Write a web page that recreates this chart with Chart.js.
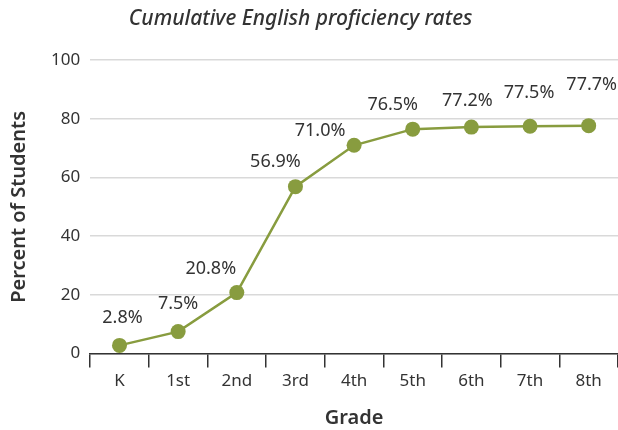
<!DOCTYPE html>
<html>
<head>
<meta charset="utf-8">
<script src="https://cdn.jsdelivr.net/npm/chart.js@4.4.0/dist/chart.umd.min.js"></script>
<style>
  html, body { margin: 0; padding: 0; background: #fff; }
  #wrap { width: 618px; height: 430px; }
</style>
</head>
<body>
<div id="wrap"><canvas id="rates-chart"></canvas></div>
<script>
// Chart data
const grades = ['K', '1st', '2nd', '3rd', '4th', '5th', '6th', '7th', '8th'];
const rates = [2.8, 7.5, 20.8, 56.9, 71.0, 76.5, 77.2, 77.5, 77.7];
const yTicks = [0, 20, 40, 60, 80, 100];

// where each value label sits relative to its point (dx, dy)
const labelShift = [[3, -28], [0, -28], [-26, -24], [-20, -25], [-34, -14], [-20, -24], [-4, -26], [-1, -33], [3, -41]];

const FONT = '"Noto Sans", sans-serif';
const INK = '#333333';
const OLIVE = '#889c3f';

// draws the percent labels next to the points
const valueLabels = {
    id: 'valueLabels',
    afterDatasetsDraw(chart) {
        const ctx = chart.ctx;
        const meta = chart.getDatasetMeta(0);
        ctx.save();
        ctx.font = '18px ' + FONT;
        ctx.fillStyle = INK;
        ctx.textAlign = 'center';
        ctx.textBaseline = 'middle';
        meta.data.forEach(function(pt, i) {
            const s = labelShift[i];
            ctx.fillText(rates[i].toFixed(1) + '%', pt.x + s[0], pt.y + s[1]);
        });
        ctx.restore();
    }
};

new Chart(document.getElementById('rates-chart'), {
    type: 'line',
    data: {
        labels: grades,
        datasets: [{
            data: rates,
            borderColor: OLIVE,
            backgroundColor: OLIVE,
            borderWidth: 2.5,
            pointRadius: 7.5,
            pointHoverRadius: 7.5,
            pointBorderWidth: 0,
            tension: 0
        }]
    },
    options: {
        responsive: true,
        maintainAspectRatio: false,
        animation: false,
        layout: { autoPadding: false, padding: { left: 5, right: 0, top: 0, bottom: 0 } },
        plugins: {
            legend: { display: false },
            tooltip: { enabled: false },
            title: {
                display: true,
                // trailing spaces nudge the centred title a little to the left
                text: 'Cumulative English proficiency rates    ',
                color: INK,
                font: { family: FONT, size: 21, style: 'italic', weight: '500' },
                padding: { top: 6, bottom: 29 }
            }
        },
        scales: {
            y: {
                min: 0,
                max: 100,
                afterBuildTicks(axis) {
                    axis.ticks = yTicks.map(function(v) { return { value: v }; });
                },
                border: { display: false },
                grid: { color: '#d9d9d9', lineWidth: 1.5, drawTicks: false },
                ticks: { color: INK, padding: 10, font: { family: FONT, size: 17 } },
                title: {
                    display: true,
                    text: 'Percent of Students',
                    color: INK,
                    font: { family: FONT, size: 20, weight: '600' },
                    padding: { top: 2, bottom: 10 }
                }
            },
            x: {
                offset: true,
                border: { display: true, color: INK, width: 1.5 },
                grid: { offset: true, drawOnChartArea: false, drawTicks: true, tickLength: 14, color: INK, lineWidth: 1.5 },
                ticks: { color: INK, padding: 3, font: { family: FONT, size: 17 } },
                title: {
                    display: true,
                    text: 'Grade',
                    color: INK,
                    font: { family: FONT, size: 20, weight: '600' },
                    padding: { top: 12, bottom: 0 }
                }
            }
        }
    },
    plugins: [valueLabels]
});
</script>
</body>
</html>
